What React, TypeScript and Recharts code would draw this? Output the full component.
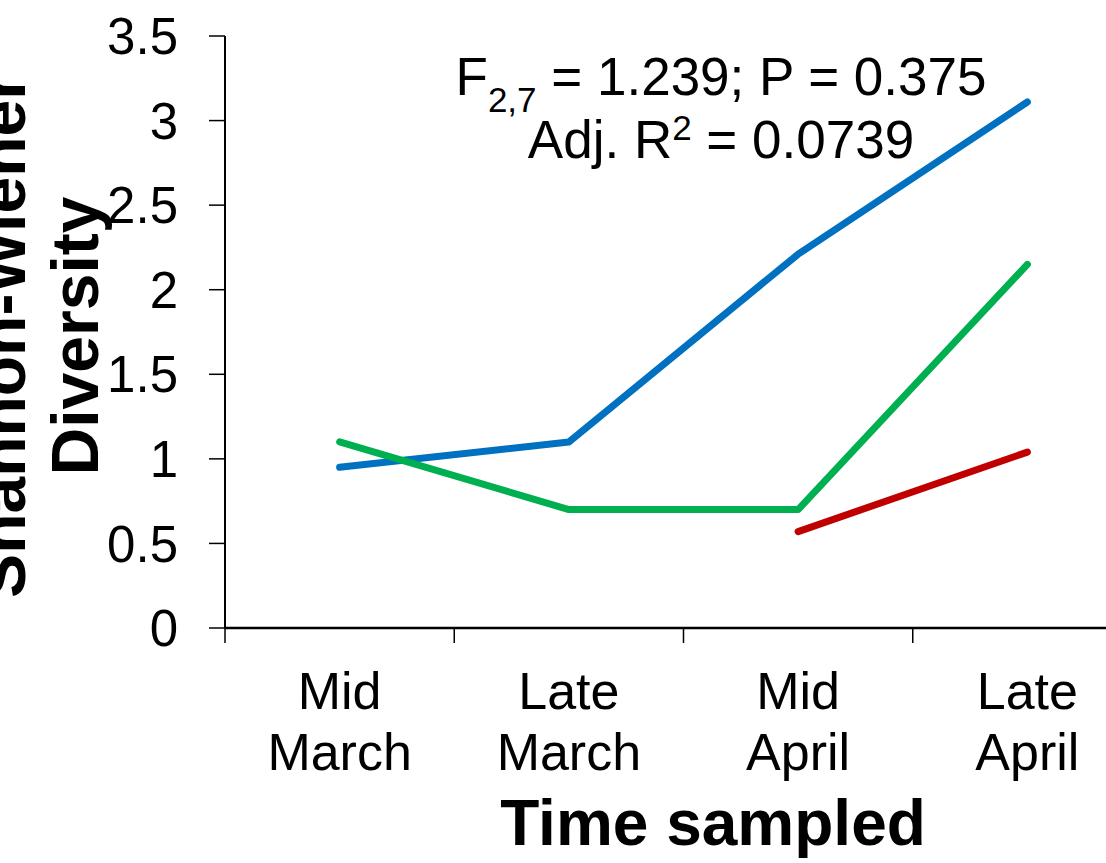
import { LineChart, Line, XAxis, YAxis, Customized } from 'recharts';

const times = ['Mid\nMarch', 'Late\nMarch', 'Mid\nApril', 'Late\nApril'];
const blueSeries = [0.95, 1.1, 2.21, 3.11];
const greenSeries = [1.1, 0.7, 0.7, 2.15];
const redSeries = [null, null, 0.57, 1.04];
const yTicks = [0, 0.5, 1, 1.5, 2, 2.5, 3, 3.5];

const data = times.map((time, i) => ({
  time,
  blue: blueSeries[i],
  green: greenSeries[i],
  red: redSeries[i],
}));

const FONT = '"Liberation Sans", Arial, Helvetica, sans-serif';
const CHART_W = 1160;
const CHART_H = 863;
const Y_AXIS_W = 225;
const MARGIN = { top: 36, right: 18, bottom: 0, left: 0 };
const BAND = (CHART_W - MARGIN.right - MARGIN.left - Y_AXIS_W) / times.length;

// category labels sit in the band centre, tick marks on the band edges
function TimeTick(props: any) {
  const { x, y, payload, index, visibleTicksCount } = props;
  const lines = String(payload.value).split('\n');
  const edge = x - BAND / 2;
  return (
    <g>
      <line x1={edge} x2={edge} y1={y} y2={y + 15} stroke="#000" strokeWidth={1.5} />
      {index === visibleTicksCount - 1 && (
        <line x1={edge + BAND} x2={edge + BAND} y1={y} y2={y + 15} stroke="#000" strokeWidth={1.5} />
      )}
      <text x={x} y={y + 81} textAnchor="middle" fontSize={52} fontFamily={FONT} fill="#000">
        {lines.map((line, i) => (
          <tspan key={i} x={x} dy={i === 0 ? 0 : 61}>
            {line}
          </tspan>
        ))}
      </text>
    </g>
  );
}

function Titles() {
  return (
    <g fontFamily={FONT} fill="#000">
      <text transform="translate(25,336) rotate(-90)" textAnchor="middle" fontSize={66} fontWeight="bold">
        Shannon-Wiener
      </text>
      <text transform="translate(98,336) rotate(-90)" textAnchor="middle" fontSize={66} fontWeight="bold">
        Diversity
      </text>
      <text x={713} y={845} textAnchor="middle" fontSize={64} fontWeight="bold">
        Time sampled
      </text>
      <text x={721} y={95} textAnchor="middle" fontSize={53}>
        F
        <tspan fontSize={35} dy={17}>2,7</tspan>
        <tspan dy={-17}> = 1.239; P = 0.375</tspan>
      </text>
      <text x={721} y={158} textAnchor="middle" fontSize={53}>
        Adj. R
        <tspan fontSize={35} dy={-18}>2</tspan>
        <tspan dy={18}> = 0.0739</tspan>
      </text>
    </g>
  );
}

export default function App() {
  return (
    <div
      style={{
        position: 'fixed',
        left: 0,
        top: 0,
        width: 1106,
        height: 863,
        overflow: 'hidden',
        background: '#fff',
      }}
    >
      <LineChart width={CHART_W} height={CHART_H} data={data} margin={MARGIN}>
        <XAxis
          dataKey="time"
          scale="band"
          height={235}
          interval={0}
          tickLine={false}
          tickSize={0}
          tickMargin={0}
          axisLine={{ stroke: '#000', strokeWidth: 2.5 }}
          tick={<TimeTick />}
        />
        <YAxis
          width={Y_AXIS_W}
          domain={[0, 3.5]}
          ticks={yTicks}
          interval={0}
          tickSize={16}
          tickMargin={31}
          tickLine={{ stroke: '#000', strokeWidth: 1.5 }}
          axisLine={{ stroke: '#000', strokeWidth: 2 }}
          tick={{ fill: '#000', fontSize: 51, fontFamily: FONT }}
        />
        <Line
          dataKey="blue"
          stroke="#0070C0"
          strokeWidth={7}
          strokeLinecap="round"
          strokeLinejoin="round"
          dot={false}
          isAnimationActive={false}
        />
        <Line
          dataKey="green"
          stroke="#00B050"
          strokeWidth={7}
          strokeLinecap="round"
          strokeLinejoin="round"
          dot={false}
          isAnimationActive={false}
        />
        <Line
          dataKey="red"
          stroke="#C00000"
          strokeWidth={7}
          strokeLinecap="round"
          strokeLinejoin="round"
          dot={false}
          isAnimationActive={false}
        />
        <Customized component={Titles} />
      </LineChart>
    </div>
  );
}
